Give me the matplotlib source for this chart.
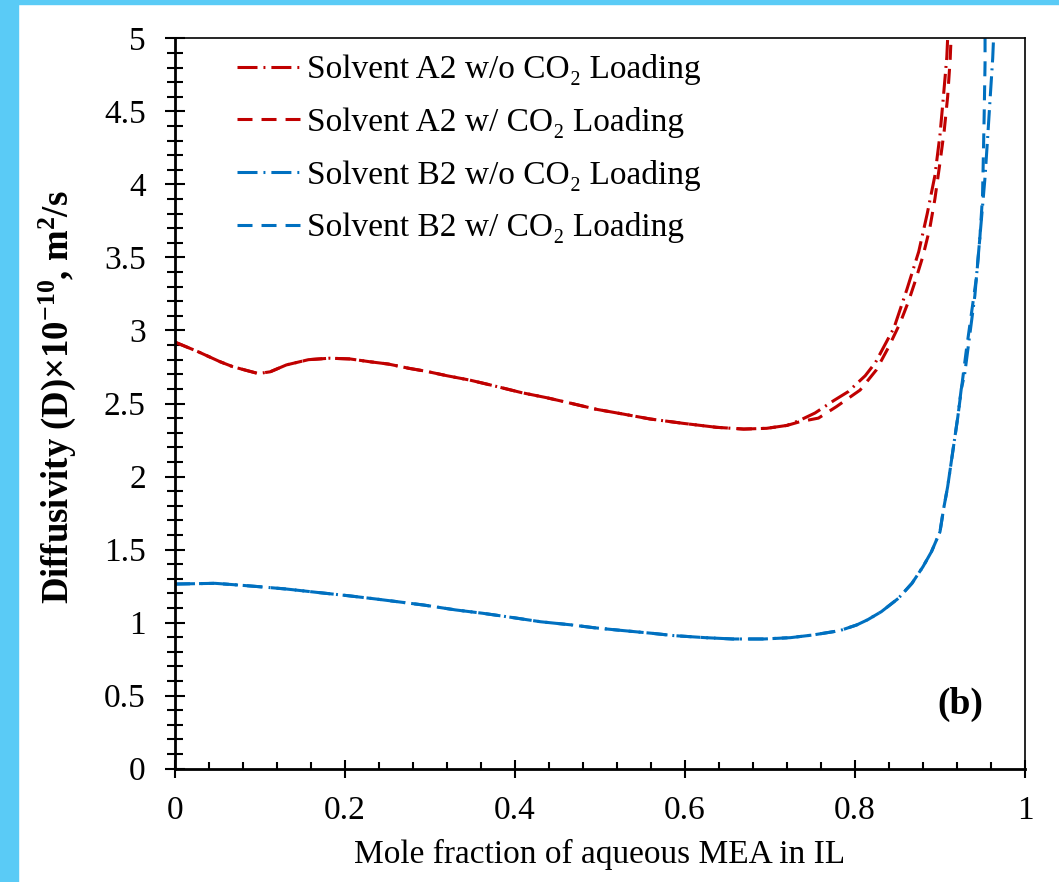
import matplotlib
matplotlib.use('Agg')
import matplotlib.pyplot as plt
from matplotlib.ticker import MultipleLocator, FuncFormatter
from matplotlib.patches import Rectangle

# Данные (мольная доля водного МЭА в ИЖ -> коэффициент диффузии)
# Solvent A2: общий участок обеих кривых
a2_x = [0, 0.027, 0.053, 0.068, 0.085, 0.098, 0.112, 0.131, 0.157, 0.182, 0.206, 0.229,
        0.251, 0.276, 0.296, 0.32, 0.347, 0.371, 0.408, 0.437, 0.461, 0.496, 0.527,
        0.559, 0.598, 0.637, 0.669, 0.696, 0.72]
a2_y = [2.92, 2.855, 2.786, 2.752, 2.725, 2.705, 2.717, 2.764, 2.80, 2.81, 2.805, 2.786,
        2.77, 2.74, 2.72, 2.69, 2.66, 2.627, 2.574, 2.54, 2.508, 2.46, 2.428,
        2.394, 2.364, 2.337, 2.325, 2.33, 2.35]
# хвосты, где кривые расходятся
a2_wo_x = [0.735, 0.753, 0.775, 0.792, 0.812, 0.824, 0.846, 0.861, 0.875, 0.885, 0.894,
           0.900, 0.904, 0.908, 0.909]
a2_wo_y = [2.385, 2.435, 2.52, 2.581, 2.69, 2.78, 3.02, 3.28, 3.54, 3.80, 4.06,
           4.34, 4.60, 4.87, 5.0]
a2_w_x = [0.735, 0.757, 0.778, 0.806, 0.825, 0.839, 0.853, 0.863, 0.871, 0.880, 0.888,
          0.894, 0.900, 0.905, 0.909, 0.912, 0.913]
a2_w_y = [2.375, 2.40, 2.478, 2.592, 2.729, 2.88, 3.05, 3.20, 3.34, 3.51, 3.70,
          3.90, 4.15, 4.37, 4.60, 4.86, 5.0]

# Solvent B2: общий участок
b2_x = [0, 0.047, 0.073, 0.099, 0.131, 0.167, 0.204, 0.236, 0.262, 0.293, 0.33, 0.362,
        0.398, 0.43, 0.467, 0.493, 0.519, 0.561, 0.587, 0.624, 0.656, 0.693, 0.724,
        0.75, 0.782, 0.802, 0.815, 0.831, 0.851, 0.867, 0.880, 0.890, 0.900, 0.904,
        0.909, 0.913, 0.917, 0.921]
b2_y = [1.264, 1.269, 1.258, 1.246, 1.23, 1.207, 1.184, 1.162, 1.143, 1.12, 1.087, 1.064,
        1.034, 1.006, 0.984, 0.965, 0.95, 0.927, 0.911, 0.897, 0.888, 0.888, 0.897,
        0.915, 0.945, 0.984, 1.02, 1.075, 1.166, 1.269, 1.383, 1.486, 1.622, 1.771,
        1.93, 2.09, 2.25, 2.41]
b2_wo_x = [0.925, 0.929, 0.941, 0.953, 0.956, 0.959, 0.962, 0.963]
b2_wo_y = [2.60, 2.70, 3.238, 4.05, 4.315, 4.59, 4.863, 5.0]
b2_w_x = [0.925, 0.931, 0.937, 0.943, 0.947, 0.950, 0.951, 0.952, 0.953, 0.953]
b2_w_y = [2.592, 2.866, 3.117, 3.368, 3.642, 3.916, 4.19, 4.486, 4.83, 5.0]

labels = ['Solvent A2 w/o CO₂ Loading', 'Solvent A2 w/ CO₂ Loading',
          'Solvent B2 w/o CO₂ Loading', 'Solvent B2 w/ CO₂ Loading']

plt.rcParams['font.family'] = ['Liberation Serif', 'DejaVu Serif']
plt.rcParams['mathtext.fontset'] = 'custom'
plt.rcParams['mathtext.rm'] = 'Liberation Serif'
plt.rcParams['mathtext.it'] = 'Liberation Serif:italic'
plt.rcParams['mathtext.bf'] = 'Liberation Serif:bold'
plt.rcParams['lines.scale_dashes'] = False

red = '#C00000'
blue = '#0070C0'
dashdot = (0, (14.4, 4.3, 1.4, 4.3))
dashed = (0, (10.8, 6.5))

fig = plt.figure(figsize=(10.59, 8.82), dpi=100)
# голубая рамка слева и сверху
fig.add_artist(Rectangle((0, 0), 18 / 1059, 1, transform=fig.transFigure,
                         color='#5ACBF6', zorder=0))
fig.add_artist(Rectangle((0, 1 - 4 / 882), 1, 4 / 882, transform=fig.transFigure,
                         color='#5ACBF6', zorder=0))

ax = fig.add_axes([175 / 1059, 113.3 / 882, 850 / 1059, 730.4 / 882])

ax.plot(a2_x + a2_wo_x, a2_y + a2_wo_y, color=red, linestyle=dashdot, linewidth=2.2, label=labels[0])
ax.plot(a2_x + a2_w_x, a2_y + a2_w_y, color=red, linestyle=dashed, linewidth=2.2, label=labels[1])
ax.plot(b2_x + b2_wo_x, b2_y + b2_wo_y, color=blue, linestyle=dashdot, linewidth=2.2, label=labels[2])
ax.plot(b2_x + b2_w_x, b2_y + b2_w_y, color=blue, linestyle=dashed, linewidth=2.2, label=labels[3])

ax.set_xlim(0, 1)
ax.set_ylim(0, 5)
ax.xaxis.set_major_locator(MultipleLocator(0.2))
ax.xaxis.set_minor_locator(MultipleLocator(0.04))
ax.yaxis.set_major_locator(MultipleLocator(0.5))
ax.yaxis.set_minor_locator(MultipleLocator(0.1))
fmt = FuncFormatter(lambda v, p: f'{v:g}')
ax.xaxis.set_major_formatter(fmt)
ax.yaxis.set_major_formatter(fmt)

ax.tick_params(axis='y', which='major', direction='inout', length=14, width=1.5,
               labelsize=24, pad=14)
ax.tick_params(axis='y', which='minor', direction='inout', length=12, width=1.5)
ax.tick_params(axis='x', which='major', direction='inout', length=13, width=1.5,
               labelsize=24, pad=13)
ax.tick_params(axis='x', which='minor', direction='in', length=5, width=1.5)

for side in ['left', 'bottom']:
    ax.spines[side].set_linewidth(2.0)
for side in ['top', 'right']:
    ax.spines[side].set_linewidth(1.2)

ax.set_xlabel('Mole fraction of aqueous MEA in IL', fontsize=24)
ax.xaxis.set_label_coords(0.5, -0.096)
ax.set_ylabel(r'Diffusivity (D)×10$^{\mathbf{-10}}$, m$^{\mathbf{2}}$/s', fontsize=26.5,
              fontweight='bold')
ax.yaxis.set_label_coords(-0.114, 0.508)

ax.text(0.924, 0.0886, '(b)', transform=ax.transAxes, fontsize=27, fontweight='bold',
        ha='center', va='center')

ax.legend(loc='upper left', bbox_to_anchor=(0.073, 0.978), frameon=False, fontsize=24,
          handlelength=1.9, handletextpad=0.2, labelspacing=0.65, borderpad=0,
          borderaxespad=0)

fig.savefig('out.png', dpi=100)
